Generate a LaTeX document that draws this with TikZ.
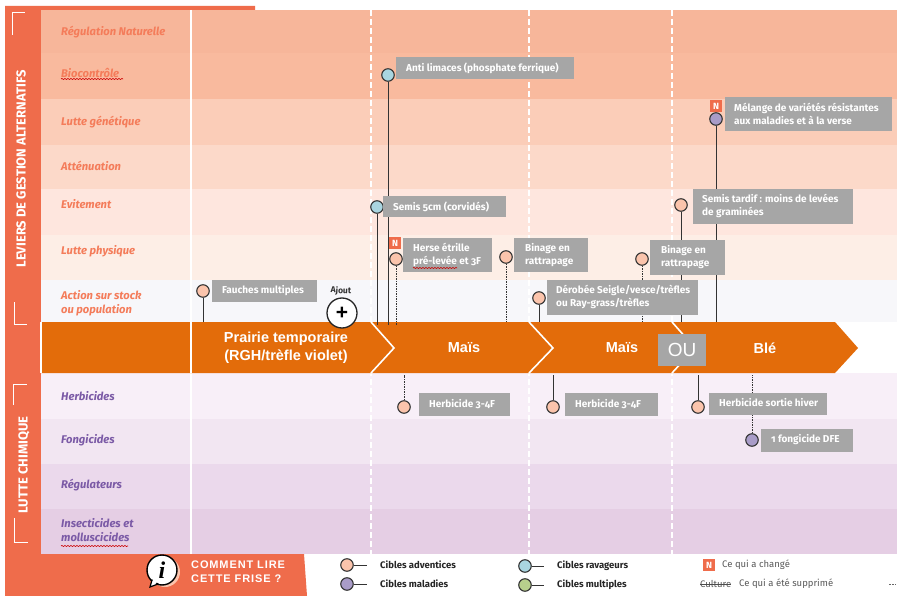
\documentclass[tikz,border=0pt]{standalone}
\usepackage{fontspec}
\setmainfont[Numbers=OldStyle]{Fira Sans}
\newfontfamily\arialf{Liberation Sans}
\newfontfamily\arialsp[LetterSpace=8]{Liberation Sans}
\newfontfamily\serifi{Liberation Serif}
\usetikzlibrary{decorations.pathmorphing}
\definecolor{strip}{HTML}{EF6C4B}
\definecolor{crop}{HTML}{E36C0A}
\definecolor{lab}{HTML}{F47C5A}
\definecolor{plab}{HTML}{7B5AA6}
\definecolor{tagc}{HTML}{A6A6A6}
\definecolor{cadv}{HTML}{FBC4AC}
\definecolor{crav}{HTML}{A9D5E0}
\definecolor{cmal}{HTML}{A99CC8}
\definecolor{cmul}{HTML}{B7CF8C}
\definecolor{stem}{HTML}{333333}
\definecolor{ba}{HTML}{F7B69A}
\definecolor{bb}{HTML}{F9BA9E}
\definecolor{bc}{HTML}{FBCDB8}
\definecolor{bd}{HTML}{FCD9C9}
\definecolor{be}{HTML}{FEE6DE}
\definecolor{bf}{HTML}{FDEEE6}
\definecolor{bg}{HTML}{F7F7FA}
\definecolor{bh}{HTML}{F8EFF8}
\definecolor{bi}{HTML}{F2E6F2}
\definecolor{bj}{HTML}{EBD9EC}
\definecolor{bk}{HTML}{E5CEE4}
\tikzset{
  lever/.style={anchor=west,text=lab,font=\fontsize{11.2}{14.5}\selectfont\bfseries\itshape,align=left,inner sep=0pt},
  chem/.style={anchor=west,text=plab,font=\fontsize{11.2}{14.5}\selectfont\bfseries\itshape,align=left,inner sep=0pt},
  tagbox/.style={fill=tagc,anchor=north west,inner sep=0pt},
  tagtext/.style={anchor=west,text=white,inner sep=0pt,align=left,font=\fontsize{10}{13.5}\selectfont\bfseries},
  pinnode/.style={circle,draw=stem,line width=1.1pt,fill=#1,minimum size=12.5pt,inner sep=0pt},
  stemline/.style={draw=stem,line width=1pt},
  dotline/.style={draw=stem,line width=.8pt,dash pattern=on 1.5pt off 1pt},
  newtag/.style={fill=strip,text=white,font=\fontsize{9}{9}\selectfont\bfseries,minimum size=12.5pt,inner sep=0pt},
  divider/.style={draw=white,line width=1.6pt,dash pattern=on 6pt off 3pt},
  chev/.style={draw=white,line width=1.6pt},
  croplab/.style={text=white,font=\arialf\fontsize{14.5}{18}\selectfont\bfseries,align=center,inner sep=0pt},
  sidetext/.style={rotate=90,text=white,font=\fontsize{13}{13}\selectfont\bfseries,inner sep=0pt},
  legtext/.style={anchor=west,inner sep=0pt,text=black!85,font=\fontsize{9.5}{11}\selectfont\bfseries},
  legnote/.style={anchor=west,inner sep=0pt,text=black!65,font=\fontsize{9.5}{11}\selectfont},
  squig/.style={draw=red!80!black,line width=.6pt,decorate,decoration={snake,amplitude=.6pt,segment length=3pt}}
}
\begin{document}
\begin{tikzpicture}[x=1pt,y=-1pt]
\useasboundingbox (0,0) rectangle (897,596);
\fill[white] (0,0) rectangle (897,596);
% left strip and legend tab
\fill[strip] (5,6) -- (255,6) -- (255,10) -- (41,10) -- (41,554) -- (304,554) -- (307,596) -- (5,596) -- cycle;
% bands
\fill[ba] (41,10) rectangle (897,53);
\fill[bb] (41,53) rectangle (897,99);
\fill[bc] (41,99) rectangle (897,145);
\fill[bd] (41,145) rectangle (897,189);
\fill[be] (41,189) rectangle (897,235);
\fill[bf] (41,235) rectangle (897,280);
\fill[bg] (41,280) rectangle (897,322);
\fill[bh] (41,373) rectangle (897,419);
\fill[bi] (41,419) rectangle (897,464);
\fill[bj] (41,464) rectangle (897,509);
\fill[bk] (41,509) rectangle (897,554);
% dividers
\draw[white,line width=1.8pt] (191,10) -- (191,554);
\draw[divider] (371,10) -- (371,554);
\draw[divider] (529,10) -- (529,554);
\draw[divider] (672,10) -- (672,554);
% crop arrow
\fill[crop] (41,322) -- (835,322) -- (858,348) -- (835,373) -- (41,373) -- cycle;
\draw[white,line width=1.4pt] (41,322) -- (41,373);
\draw[white,line width=1.4pt] (191,322) -- (191,373);
\draw[chev] (371,322) -- (394,348) -- (371,373);
\draw[chev] (529,322) -- (553,348) -- (529,373);
\draw[chev] (672,322) -- (695,348) -- (672,373);
\node[croplab] (c1) at (286,348) {Prairie temporaire\\(RGH/trèfle violet)};
\node[croplab] (c2) at (464,348) {Maïs};
\node[croplab] (c3) at (622,348) {Maïs};
\node[croplab] (c4) at (765,348) {Blé};
\node[fill=tagc,text=white,font=\arialf\fontsize{19}{19}\selectfont,minimum width=48pt,minimum height=32pt,inner sep=0pt] (ou) at (682,350) {OU};
% side texts
\node[sidetext] (side1) at (21,169) {LEVIERS DE GESTION ALTERNATIFS};
\node[sidetext] (side2) at (24,465) {LUTTE CHIMIQUE};
\draw[white,line width=.8pt] (12,35) -- (12,12) -- (25,12);
\draw[white,line width=.8pt] (14,302) -- (14,324) -- (27,324);
\draw[white,line width=.8pt] (13,405) -- (13,384) -- (27,384);
\draw[white,line width=.8pt] (14,518) -- (14,542) -- (28,542);
% row labels
\node[lever] (l1) at (61,32) {Régulation Naturelle};
\node[lever] (l2) at (61,73) {Biocontrôle};
\node[lever] (l3) at (61,122) {Lutte génétique};
\node[lever] (l4) at (61,166) {Atténuation};
\node[lever] (l5) at (61,204) {Evitement};
\node[lever] (l6) at (61,251) {Lutte physique};
\node[lever] (l7) at (61,303) {Action sur stock\\ou population};
\node[chem] (h1) at (61,396) {Herbicides};
\node[chem] (h2) at (61,440) {Fongicides};
\node[chem] (h3) at (61,485) {Régulateurs};
\node[chem] (h4) at (61,530) {Insecticides et\\molluscicides};
\draw[squig] (61,79) -- (123,79);
\draw[squig] (61,546) -- (128,546);
% axis anchors
\coordinate (a1) at (203,322);
\coordinate (a2) at (388,325);
\coordinate (a3) at (377,325);
\coordinate (a4) at (396,325);
\coordinate (a5) at (506,322);
\coordinate (a6) at (539,322);
\coordinate (a7) at (642,322);
\coordinate (a8) at (681,322);
\coordinate (a9) at (716,322);
\coordinate (b1) at (404,375);
\coordinate (b2) at (553,375);
\coordinate (b3) at (698,375);
\coordinate (b4) at (752,375);
% pins and stems
\node[pinnode=cadv] (p1) at (203,291) {};
\node[pinnode=crav] (p2) at (388,75) {};
\node[pinnode=crav] (p3) at (377,207) {};
\node[pinnode=cadv] (p4) at (396,259) {};
\node[pinnode=cadv] (p5) at (506,257) {};
\node[pinnode=cadv] (p6) at (539,298) {};
\node[pinnode=cadv] (p7) at (642,259) {};
\node[pinnode=cadv] (p8) at (681,205) {};
\node[pinnode=cmal] (p9) at (716,119) {};
\node[pinnode=cadv] (q1) at (404,407) {};
\node[pinnode=cadv] (q2) at (553,407) {};
\node[pinnode=cadv] (q3) at (698,407) {};
\node[pinnode=cmal] (q4) at (752,440) {};
\draw[stemline] (p1) -- (a1);
\draw[stemline] (p2) -- (a2);
\draw[stemline] (p3) -- (a3);
\draw[dotline] (p4) -- (a4);
\draw[dotline] (p5) -- (a5);
\draw[stemline] (p6) -- (a6);
\draw[dotline] (p7) -- (a7);
\draw[stemline] (p8) -- (a8);
\draw[stemline] (p9) -- (a9);
\draw[dotline] (q1) -- (b1);
\draw[stemline] (q2) -- (b2);
\draw[stemline] (q3) -- (b3);
\draw[dotline] (q4) -- (b4);
% tags
\node[tagbox,minimum width=105pt,minimum height=22pt] (t1) at (212,280) {};
\node[tagtext] (t1t) at (222,291) {Fauches multiples};
\node[tagbox,minimum width=178pt,minimum height=22pt] (t2) at (396,57) {};
\node[tagtext] (t2t) at (406,68) {Anti limaces (phosphate ferrique)};
\node[tagbox,minimum width=123pt,minimum height=21pt] (t3) at (383,196) {};
\node[tagtext] (t3t) at (393,207) {Semis 5cm (corvidés)};
\node[tagbox,minimum width=89pt,minimum height=34pt] (t4) at (403,238) {};
\node[tagtext] (t4t) at (413,255) {Herse étrille\\pré-levée et 3F};
\node[tagbox,minimum width=74pt,minimum height=34pt] (t5) at (514,238) {};
\node[tagtext] (t5t) at (525,255) {Binage en\\rattrapage};
\node[tagbox,minimum width=151pt,minimum height=35pt] (t6) at (547,280) {};
\node[tagtext] (t6t) at (556,297) {Dérobée Seigle/vesce/trèfles\\ou Ray-grass/trèfles};
\node[tagbox,minimum width=75pt,minimum height=35pt] (t7) at (650,240) {};
\node[tagtext] (t7t) at (661,257) {Binage en\\rattrapage};
\node[tagbox,minimum width=160pt,minimum height=35pt] (t8) at (693,189) {};
\node[tagtext] (t8t) at (702,206) {Semis tardif : moins de levées\\de graminées};
\node[tagbox,minimum width=167pt,minimum height=34pt] (t9) at (725,97) {};
\node[tagtext] (t9t) at (734,114) {Mélange de variétés résistantes\\aux maladies et à la verse};
\node[tagbox,minimum width=91pt,minimum height=23pt] (u1) at (419,393) {};
\node[tagtext] (u1t) at (429,404) {Herbicide 3-4F};
\node[tagbox,minimum width=93pt,minimum height=23pt] (u2) at (565,393) {};
\node[tagtext] (u2t) at (575,404) {Herbicide 3-4F};
\node[tagbox,minimum width=118pt,minimum height=22pt] (u3) at (709,393) {};
\node[tagtext] (u3t) at (719,403) {Herbicide sortie hiver};
\node[tagbox,minimum width=92pt,minimum height=23pt] (u4) at (761,429) {};
\node[tagtext] (u4t) at (771,440) {1 fongicide DFE};
\draw[squig] (413,268) -- (457,268);
\node[newtag] (n1) at (395,243) {N};
\node[newtag] (n2) at (716,106) {N};
% ajout
\node[circle,draw=black!85,line width=1.3pt,fill=white,minimum size=30pt,inner sep=0pt,font=\arialf\fontsize{21}{21}\selectfont\bfseries] (plus) at (342,313) {+};
\node[font=\fontsize{8.5}{8.5}\selectfont\bfseries,text=black!80,inner sep=0pt,rotate=-3] (ajout) at (341,291) {Ajout};
% info block
\fill[cadv] (165,572) circle (15pt);
\node[circle,draw=black,line width=1.4pt,fill=white,minimum size=30pt,inner sep=0pt] (info) at (162,570) {};
\fill[white,draw=black,line width=1.2pt] (152,580) -- (150,587) -- (158,584) -- cycle;
\fill[white] (153,579) -- (152,584) -- (159,582) -- (160,578) -- cycle;
\node[font=\serifi\fontsize{24}{24}\selectfont\bfseries\itshape,text=black,inner sep=0pt] (infoi) at (162,570) {i};
\node[anchor=west,text=white,align=left,inner sep=0pt,font=\arialsp\fontsize{11}{14}\selectfont\bfseries] (how) at (191,572) {COMMENT LIRE\\CETTE FRISE ?};
% legend
\node[pinnode=cadv] (k1) at (347,565) {};
\coordinate (k1e) at (367,565);
\draw[stemline] (k1) -- (k1e);
\node[pinnode=cmal] (k2) at (347,584) {};
\coordinate (k2e) at (367,584);
\draw[stemline] (k2) -- (k2e);
\node[pinnode=crav] (k3) at (525,566) {};
\coordinate (k3e) at (544,566);
\draw[stemline] (k3) -- (k3e);
\node[pinnode=cmul] (k4) at (525,585) {};
\coordinate (k4e) at (544,585);
\draw[stemline] (k4) -- (k4e);
\node[legtext] (kt1) at (380,565) {Cibles adventices};
\node[legtext] (kt2) at (380,584) {Cibles maladies};
\node[legtext] (kt3) at (557,566) {Cibles ravageurs};
\node[legtext] (kt4) at (557,585) {Cibles multiples};
\node[newtag] (n3) at (709,565) {N};
\node[legnote] (kt5) at (722,565) {Ce qui a changé};
\node[legnote] (kt6) at (700,584) {Culture};
\draw[black!70,line width=.7pt] (kt6.west) -- (kt6.east);
\node[legnote] (kt7) at (739,584) {Ce qui a été supprimé};
\draw[black!60,line width=.7pt,dash pattern=on 2pt off 1pt] (889,584) -- (896,584);
\end{tikzpicture}
\end{document}
